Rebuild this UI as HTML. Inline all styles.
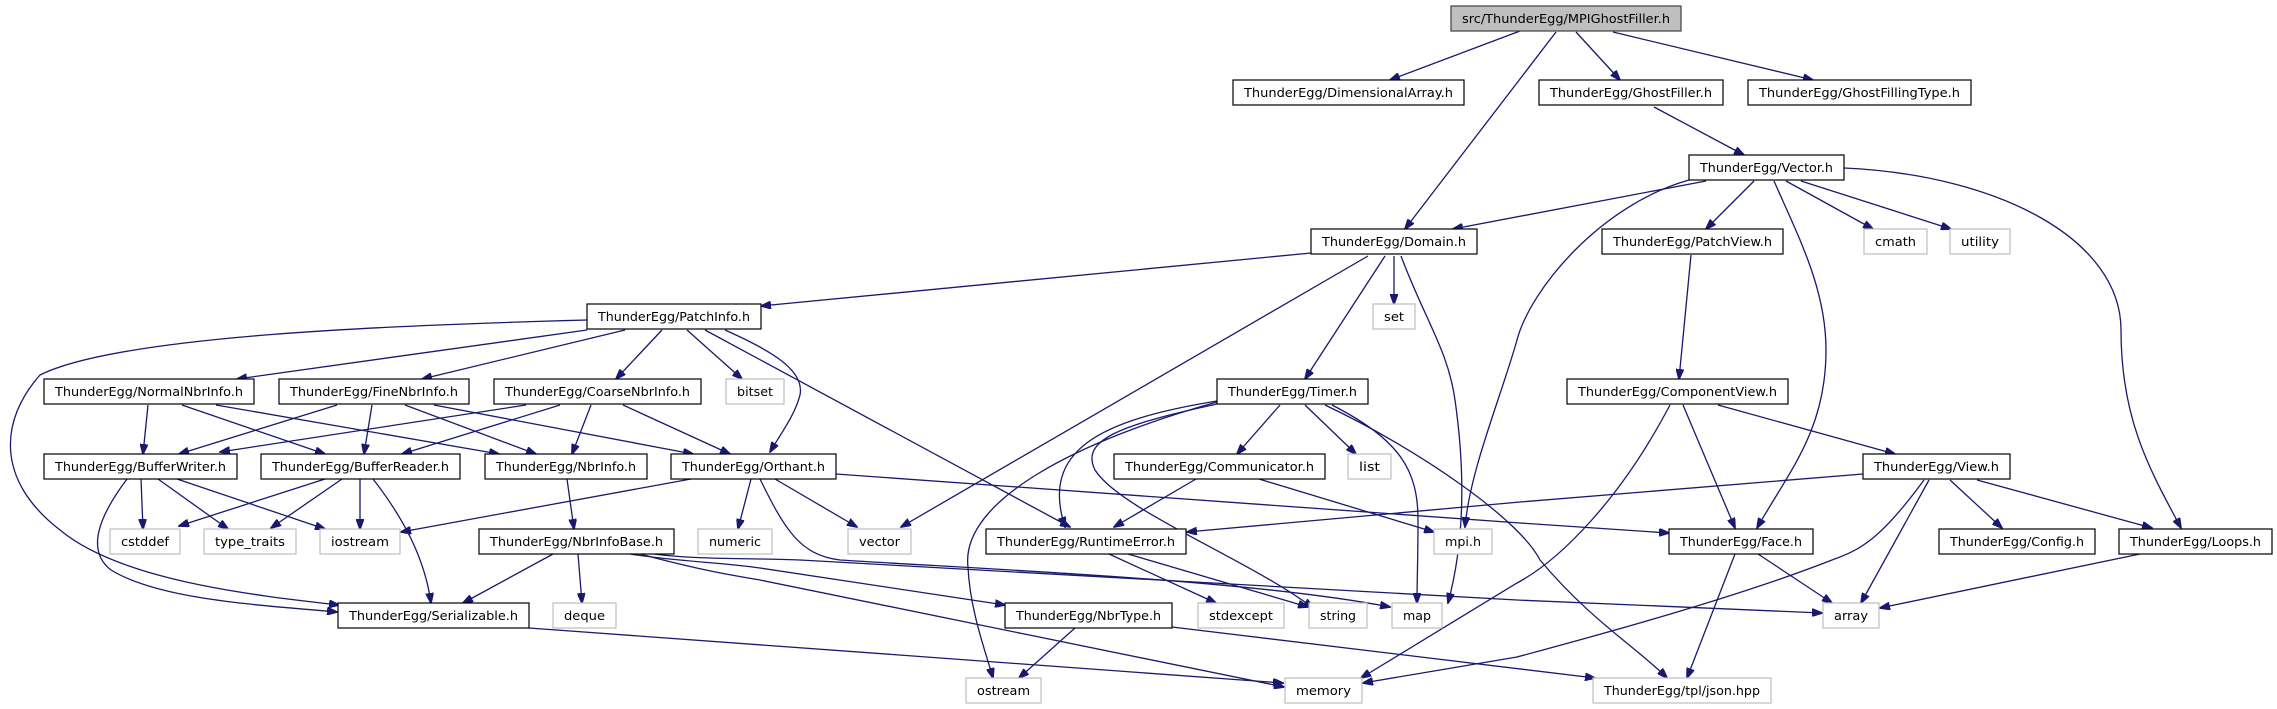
<!DOCTYPE html>
<html><head><meta charset="utf-8"><style>
html,body{margin:0;padding:0;background:#fff;}
svg{display:block;}
text{font-family:"DejaVu Sans","Liberation Sans",sans-serif;font-size:12px;fill:#000;}
.e{fill:none;stroke:#191970;stroke-width:1.3;marker-end:url(#a);}
.n{fill:#fff;stroke:#000;stroke-width:1.2;}
.g{fill:#fff;stroke:#bfbfbf;stroke-width:1.2;}
</style></head><body>
<svg width="2277" height="709" viewBox="0 0 2277 709" xmlns="http://www.w3.org/2000/svg">
<defs><marker id="a" markerWidth="11" markerHeight="8" refX="10" refY="4" orient="auto" markerUnits="userSpaceOnUse"><path d="M0,0 L11,4 L0,8 z" fill="#191970" stroke="#191970"/></marker></defs>

<path class="e" d="M1520,31 L1390,80"/>
<path class="e" d="M1556,32 L1405,229"/>
<path class="e" d="M1576,32 L1620,80"/>
<path class="e" d="M1613,32 L1813,80"/>
<path class="e" d="M1654,107 L1744,155"/>
<path class="e" d="M1706,181 L1453,229"/>
<path class="e" d="M1689,180 C1600,205 1530,290 1517,340 C1500,400 1470,470 1465,527"/>
<path class="e" d="M1754,181 L1706,229"/>
<path class="e" d="M1774,181 C1800,240 1826,290 1826,350 C1826,430 1790,470 1757,528"/>
<path class="e" d="M1786,181 L1873,229"/>
<path class="e" d="M1801,181 L1951,229"/>
<path class="e" d="M1844,168 C2000,175 2121,240 2121,330 C2121,420 2150,470 2181,528"/>
<path class="e" d="M1311,253 L761,306"/>
<path class="e" d="M1368,256 L901,527"/>
<path class="e" d="M1394,256 L1394,304"/>
<path class="e" d="M1385,256 L1305,379"/>
<path class="e" d="M1401,256 C1425,320 1448,350 1455,400 C1465,470 1465,540 1448,603"/>
<path class="e" d="M587,320 C400,325 120,335 40,375 C0,420 -5,480 60,530 C120,580 250,595 339,605"/>
<path class="e" d="M587,330 L237,379"/>
<path class="e" d="M625,330 L422,379"/>
<path class="e" d="M662,330 L616,379"/>
<path class="e" d="M687,330 L742,379"/>
<path class="e" d="M725,330 C770,350 805,370 800,395 C795,415 780,435 770,452"/>
<path class="e" d="M705,330 L1070,527"/>
<path class="e" d="M148,405 L143,454"/>
<path class="e" d="M182,405 L325,454"/>
<path class="e" d="M216,405 L499,454"/>
<path class="e" d="M337,405 L179,454"/>
<path class="e" d="M372,405 L364,454"/>
<path class="e" d="M405,405 L536,454"/>
<path class="e" d="M434,405 L693,454"/>
<path class="e" d="M526,405 L220,452"/>
<path class="e" d="M560,405 L402,454"/>
<path class="e" d="M591,405 L572,454"/>
<path class="e" d="M623,405 L730,454"/>
<path class="e" d="M141,479 L143,529"/>
<path class="e" d="M158,479 L228,529"/>
<path class="e" d="M177,479 L325,529"/>
<path class="e" d="M127,479 C100,515 85,550 111,570 C160,600 260,605 337,612"/>
<path class="e" d="M325,479 L179,526"/>
<path class="e" d="M342,479 L271,528"/>
<path class="e" d="M360,479 L360,529"/>
<path class="e" d="M373,479 C405,520 425,560 431,603"/>
<path class="e" d="M567,479 L574,529"/>
<path class="e" d="M691,479 L401,532"/>
<path class="e" d="M751,479 L738,529"/>
<path class="e" d="M775,479 L857,527"/>
<path class="e" d="M760,479 C785,530 800,555 840,560 C1000,570 1250,580 1390,607"/>
<path class="e" d="M836,474 L1520,523 L1669,533"/>
<path class="e" d="M553,554 L463,603"/>
<path class="e" d="M578,554 L582,603"/>
<path class="e" d="M654,554 C700,560 760,558 800,560 L1517,600 L1822,613"/>
<path class="e" d="M630,554 C680,562 720,562 760,568 L1005,605"/>
<path class="e" d="M640,554 C700,570 730,575 760,580 L1284,687"/>
<path class="e" d="M529,628 L1283,683"/>
<path class="e" d="M1280,405 L1237,454"/>
<path class="e" d="M1305,405 L1356,454"/>
<path class="e" d="M1217,401 C1100,420 1040,450 1065,527"/>
<path class="e" d="M1217,402 C1080,440 960,500 968,567 C970,610 985,650 993,678"/>
<path class="e" d="M1217,404 C1120,425 1080,440 1095,470 C1120,510 1250,560 1313,608"/>
<path class="e" d="M1332,405 C1400,440 1418,470 1418,520 C1418,560 1417,580 1417,603"/>
<path class="e" d="M1325,405 C1420,450 1520,520 1540,560 C1590,620 1640,650 1667,678"/>
<path class="e" d="M1196,479 L1114,527"/>
<path class="e" d="M1259,479 L1434,532"/>
<path class="e" d="M1109,554 L1216,603"/>
<path class="e" d="M1128,554 L1308,607"/>
<path class="e" d="M1075,628 L1019,678"/>
<path class="e" d="M1172,627 L1595,678"/>
<path class="e" d="M1670,405 C1620,500 1560,560 1517,583 C1440,630 1390,660 1361,678"/>
<path class="e" d="M1683,405 L1735,528"/>
<path class="e" d="M1718,405 L1895,454"/>
<path class="e" d="M1691,255 L1679,379"/>
<path class="e" d="M1863,474 L1520,502 L1187,532"/>
<path class="e" d="M1924,480 C1880,540 1860,550 1832,560 C1730,600 1580,640 1517,657 L1363,683"/>
<path class="e" d="M1929,480 L1861,603"/>
<path class="e" d="M1950,480 L2002,528"/>
<path class="e" d="M1977,480 L2152,528"/>
<path class="e" d="M1758,554 L1832,603"/>
<path class="e" d="M1735,554 L1687,678"/>
<path class="e" d="M2140,554 L1880,608"/>

<rect x="1451" y="6" width="230" height="25" fill="#bfbfbf" stroke="#404040" stroke-width="1.2"/>
<text x="1462" y="23" textLength="208" lengthAdjust="spacingAndGlyphs">src/ThunderEgg/MPIGhostFiller.h</text>

<rect class="n" x="1233" y="80" width="231" height="25"/><text x="1244" y="97" textLength="209" lengthAdjust="spacingAndGlyphs">ThunderEgg/DimensionalArray.h</text>
<rect class="n" x="1539" y="80" width="184" height="25"/><text x="1550" y="97" textLength="162" lengthAdjust="spacingAndGlyphs">ThunderEgg/GhostFiller.h</text>
<rect class="n" x="1748" y="80" width="223" height="25"/><text x="1759" y="97" textLength="201" lengthAdjust="spacingAndGlyphs">ThunderEgg/GhostFillingType.h</text>
<rect class="n" x="1689" y="155" width="155" height="25"/><text x="1700" y="172" textLength="133" lengthAdjust="spacingAndGlyphs">ThunderEgg/Vector.h</text>
<rect class="n" x="1311" y="229" width="166" height="25"/><text x="1322" y="246" textLength="144" lengthAdjust="spacingAndGlyphs">ThunderEgg/Domain.h</text>
<rect class="n" x="1602" y="229" width="181" height="25"/><text x="1613" y="246" textLength="159" lengthAdjust="spacingAndGlyphs">ThunderEgg/PatchView.h</text>
<rect class="g" x="1864" y="229" width="63" height="25"/><text x="1875" y="246" textLength="41" lengthAdjust="spacingAndGlyphs">cmath</text>
<rect class="g" x="1950" y="229" width="60" height="25"/><text x="1961" y="246" textLength="38" lengthAdjust="spacingAndGlyphs">utility</text>
<rect class="n" x="587" y="304" width="174" height="25"/><text x="598" y="321" textLength="152" lengthAdjust="spacingAndGlyphs">ThunderEgg/PatchInfo.h</text>
<rect class="g" x="1373" y="304" width="42" height="25"/><text x="1384" y="321" textLength="20" lengthAdjust="spacingAndGlyphs">set</text>

<rect class="n" x="44" y="379" width="210" height="25"/><text x="55" y="396" textLength="188" lengthAdjust="spacingAndGlyphs">ThunderEgg/NormalNbrInfo.h</text>
<rect class="n" x="279" y="379" width="190" height="25"/><text x="290" y="396" textLength="168" lengthAdjust="spacingAndGlyphs">ThunderEgg/FineNbrInfo.h</text>
<rect class="n" x="494" y="379" width="207" height="25"/><text x="505" y="396" textLength="185" lengthAdjust="spacingAndGlyphs">ThunderEgg/CoarseNbrInfo.h</text>
<rect class="g" x="726" y="379" width="58" height="25"/><text x="737" y="396" textLength="36" lengthAdjust="spacingAndGlyphs">bitset</text>
<rect class="n" x="1217" y="379" width="151" height="25"/><text x="1228" y="396" textLength="129" lengthAdjust="spacingAndGlyphs">ThunderEgg/Timer.h</text>
<rect class="n" x="1567" y="379" width="221" height="25"/><text x="1578" y="396" textLength="199" lengthAdjust="spacingAndGlyphs">ThunderEgg/ComponentView.h</text>

<rect class="n" x="44" y="454" width="193" height="25"/><text x="55" y="471" textLength="171" lengthAdjust="spacingAndGlyphs">ThunderEgg/BufferWriter.h</text>
<rect class="n" x="261" y="454" width="199" height="25"/><text x="272" y="471" textLength="177" lengthAdjust="spacingAndGlyphs">ThunderEgg/BufferReader.h</text>
<rect class="n" x="485" y="454" width="162" height="25"/><text x="496" y="471" textLength="140" lengthAdjust="spacingAndGlyphs">ThunderEgg/NbrInfo.h</text>
<rect class="n" x="671" y="454" width="165" height="25"/><text x="682" y="471" textLength="143" lengthAdjust="spacingAndGlyphs">ThunderEgg/Orthant.h</text>
<rect class="n" x="1114" y="454" width="211" height="25"/><text x="1125" y="471" textLength="189" lengthAdjust="spacingAndGlyphs">ThunderEgg/Communicator.h</text>
<rect class="g" x="1348" y="454" width="43" height="25"/><text x="1359" y="471" textLength="21" lengthAdjust="spacingAndGlyphs">list</text>
<rect class="n" x="1863" y="454" width="147" height="25"/><text x="1874" y="471" textLength="125" lengthAdjust="spacingAndGlyphs">ThunderEgg/View.h</text>

<rect class="g" x="110" y="529" width="70" height="25"/><text x="121" y="546" textLength="48" lengthAdjust="spacingAndGlyphs">cstddef</text>
<rect class="g" x="204" y="529" width="92" height="25"/><text x="215" y="546" textLength="70" lengthAdjust="spacingAndGlyphs">type_traits</text>
<rect class="g" x="320" y="529" width="80" height="25"/><text x="331" y="546" textLength="58" lengthAdjust="spacingAndGlyphs">iostream</text>
<rect class="n" x="479" y="529" width="195" height="25"/><text x="490" y="546" textLength="173" lengthAdjust="spacingAndGlyphs">ThunderEgg/NbrInfoBase.h</text>
<rect class="g" x="698" y="529" width="74" height="25"/><text x="709" y="546" textLength="52" lengthAdjust="spacingAndGlyphs">numeric</text>
<rect class="g" x="848" y="529" width="63" height="25"/><text x="859" y="546" textLength="41" lengthAdjust="spacingAndGlyphs">vector</text>
<rect class="n" x="986" y="529" width="200" height="25"/><text x="997" y="546" textLength="178" lengthAdjust="spacingAndGlyphs">ThunderEgg/RuntimeError.h</text>
<rect class="g" x="1434" y="529" width="58" height="25"/><text x="1445" y="546" textLength="36" lengthAdjust="spacingAndGlyphs">mpi.h</text>
<rect class="n" x="1669" y="529" width="144" height="25"/><text x="1680" y="546" textLength="122" lengthAdjust="spacingAndGlyphs">ThunderEgg/Face.h</text>
<rect class="n" x="1939" y="529" width="156" height="25"/><text x="1950" y="546" textLength="134" lengthAdjust="spacingAndGlyphs">ThunderEgg/Config.h</text>
<rect class="n" x="2119" y="529" width="153" height="25"/><text x="2130" y="546" textLength="131" lengthAdjust="spacingAndGlyphs">ThunderEgg/Loops.h</text>

<rect class="n" x="338" y="603" width="191" height="25"/><text x="349" y="620" textLength="169" lengthAdjust="spacingAndGlyphs">ThunderEgg/Serializable.h</text>
<rect class="g" x="553" y="603" width="63" height="25"/><text x="564" y="620" textLength="41" lengthAdjust="spacingAndGlyphs">deque</text>
<rect class="n" x="1005" y="603" width="167" height="25"/><text x="1016" y="620" textLength="145" lengthAdjust="spacingAndGlyphs">ThunderEgg/NbrType.h</text>
<rect class="g" x="1198" y="603" width="86" height="25"/><text x="1209" y="620" textLength="64" lengthAdjust="spacingAndGlyphs">stdexcept</text>
<rect class="g" x="1309" y="603" width="58" height="25"/><text x="1320" y="620" textLength="36" lengthAdjust="spacingAndGlyphs">string</text>
<rect class="g" x="1392" y="603" width="50" height="25"/><text x="1403" y="620" textLength="28" lengthAdjust="spacingAndGlyphs">map</text>
<rect class="g" x="1823" y="603" width="56" height="25"/><text x="1834" y="620" textLength="34" lengthAdjust="spacingAndGlyphs">array</text>

<rect class="g" x="966" y="678" width="75" height="25"/><text x="977" y="695" textLength="53" lengthAdjust="spacingAndGlyphs">ostream</text>
<rect class="g" x="1285" y="678" width="77" height="25"/><text x="1296" y="695" textLength="55" lengthAdjust="spacingAndGlyphs">memory</text>
<rect class="g" x="1593" y="678" width="178" height="25"/><text x="1604" y="695" textLength="156" lengthAdjust="spacingAndGlyphs">ThunderEgg/tpl/json.hpp</text>
</svg>
</body></html>
